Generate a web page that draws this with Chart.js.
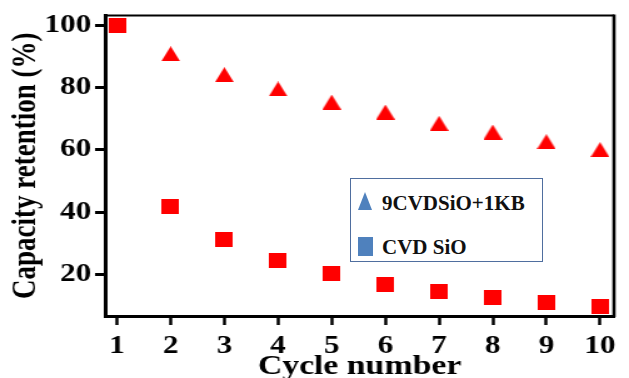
<!DOCTYPE html>
<html>
<head>
<meta charset="utf-8">
<script src="https://cdn.jsdelivr.net/npm/chart.js@4.4.0/dist/chart.umd.min.js"></script>
<style>
  html, body { margin: 0; padding: 0; background: #fff; overflow: hidden; }
  #page { position: relative; width: 629px; height: 378px; }
  /* the plot in the figure is stretched sideways, the legend box is not */
  #wrap { position: absolute; left: 0; top: 0; width: 503px; height: 378px; transform: scaleX(1.2505); transform-origin: 0 0; }
  #legend { position: absolute; left: 350px; top: 178px; width: 191px; height: 82px; border: 1px solid #4f6e9f; background: #fff; }
  #legend .mk { position: absolute; left: 7px; }
  #legend .tri { top: 13px; width: 0; height: 0; border-left: 7.5px solid transparent; border-right: 7.5px solid transparent; border-bottom: 18px solid #4f81bd; }
  #legend .sq { top: 58px; width: 15px; height: 19px; background: #4f81bd; }
  #legend .txt { position: absolute; left: 31px; font: bold 21px "Liberation Serif", serif; line-height: 21px; color: #111; white-space: nowrap; }
</style>
</head>
<body>
<div id="page">
  <div id="wrap"><canvas id="chart" width="503" height="378"></canvas></div>
  <div id="legend">
    <div class="mk tri"></div><span class="txt" id="lg1" style="top:14px"></span>
    <div class="mk sq"></div><span class="txt" id="lg2" style="top:58px"></span>
  </div>
</div>
<script>
  const cycles = [1, 2, 3, 4, 5, 6, 7, 8, 9, 10];
  const cvdSiO = [100, 41.7, 31.1, 24.5, 20.2, 16.9, 14.4, 12.5, 10.9, 9.75];
  const blendKB = [null, 90.8, 84.1, 79.5, 75.3, 72.1, 68.5, 65.7, 62.6, 60.05];
  const seriesNames = ['CVD SiO', '9CVDSiO+1KB'];
  const yTicks = [20, 40, 60, 80, 100];
  const xTicks = cycles;

  document.getElementById('lg1').textContent = seriesNames[1];
  document.getElementById('lg2').textContent = seriesNames[0];

  const red = '#ff0000';
  const serif = '"Liberation Serif", "Times New Roman", serif';

  // marker images (drawn narrower, the page stretch widens them)
  function marker(kind) {
    const c = document.createElement('canvas');
    c.width = kind === 'tri' ? 15 : 14;
    c.height = 15;
    const g = c.getContext('2d');
    g.fillStyle = red;
    if (kind === 'tri') {
      g.beginPath();
      g.moveTo(7.5, 0);
      g.lineTo(15, 15);
      g.lineTo(0, 15);
      g.closePath();
      g.fill();
    } else {
      g.fillRect(0, 0, 14, 15);
    }
    return c;
  }
  const sqImg = marker('sq');
  const triImg = marker('tri');

  const toPoints = arr => cycles.map((c, i) => ({ x: c, y: arr[i] }));

  // top and right sides of the frame
  const framePlugin = {
    id: 'frame',
    beforeDatasetsDraw(chart) {
      const { ctx, chartArea: a } = chart;
      ctx.save();
      ctx.strokeStyle = '#000';
      ctx.lineWidth = 2;
      ctx.beginPath();
      ctx.moveTo(a.left, a.top);
      ctx.lineTo(a.right, a.top);
      ctx.stroke();
      ctx.lineWidth = 2.6;
      ctx.beginPath();
      ctx.moveTo(a.right, a.top - 1);
      ctx.lineTo(a.right, a.bottom + 1);
      ctx.stroke();
      ctx.restore();
    }
  };

  new Chart(document.getElementById('chart'), {
    type: 'scatter',
    data: {
      datasets: [
        { label: seriesNames[0], data: toPoints(cvdSiO), pointStyle: sqImg, pointRadius: 8, clip: false },
        { label: seriesNames[1], data: toPoints(blendKB), pointStyle: triImg, pointRadius: 8, clip: false }
      ]
    },
    options: {
      responsive: false,
      animation: false,
      layout: { padding: { top: 13, right: 12, left: 0, bottom: 0 } },
      plugins: { legend: { display: false }, tooltip: { enabled: false } },
      scales: {
        x: {
          type: 'linear',
          min: 0.777, max: 10.26,
          afterBuildTicks: s => { s.ticks = xTicks.map(v => ({ value: v })); },
          afterFit: s => { s.height = 62; },
          border: { color: '#000', width: 3 },
          grid: { drawOnChartArea: false, drawTicks: true, tickLength: 9, tickWidth: 2.5, color: '#000' },
          ticks: { color: '#000', padding: 7, font: { family: serif, weight: 'bold', size: 25 }, maxRotation: 0 },
          title: { display: true, text: 'Cycle number', color: '#000', padding: { top: 0, bottom: -5 }, font: { family: serif, weight: 'bold', size: 27 } }
        },
        y: {
          min: 6.68, max: 103.07,
          afterBuildTicks: s => { s.ticks = yTicks.map(v => ({ value: v })); },
          afterFit: s => { s.width = 84; },
          border: { color: '#000', width: 3 },
          grid: { drawOnChartArea: false, drawTicks: true, tickLength: 8, tickWidth: 3, color: '#000' },
          ticks: { color: '#000', padding: 3, font: { family: serif, weight: 'bold', size: 25, lineHeight: 1 } },
          title: { display: true, text: 'Capacity retention (%)', color: '#000', padding: { top: 4.4, bottom: 0 }, font: { family: serif, weight: 'bold', size: 27 } }
        }
      }
    },
    plugins: [framePlugin]
  });
</script>
</body>
</html>
